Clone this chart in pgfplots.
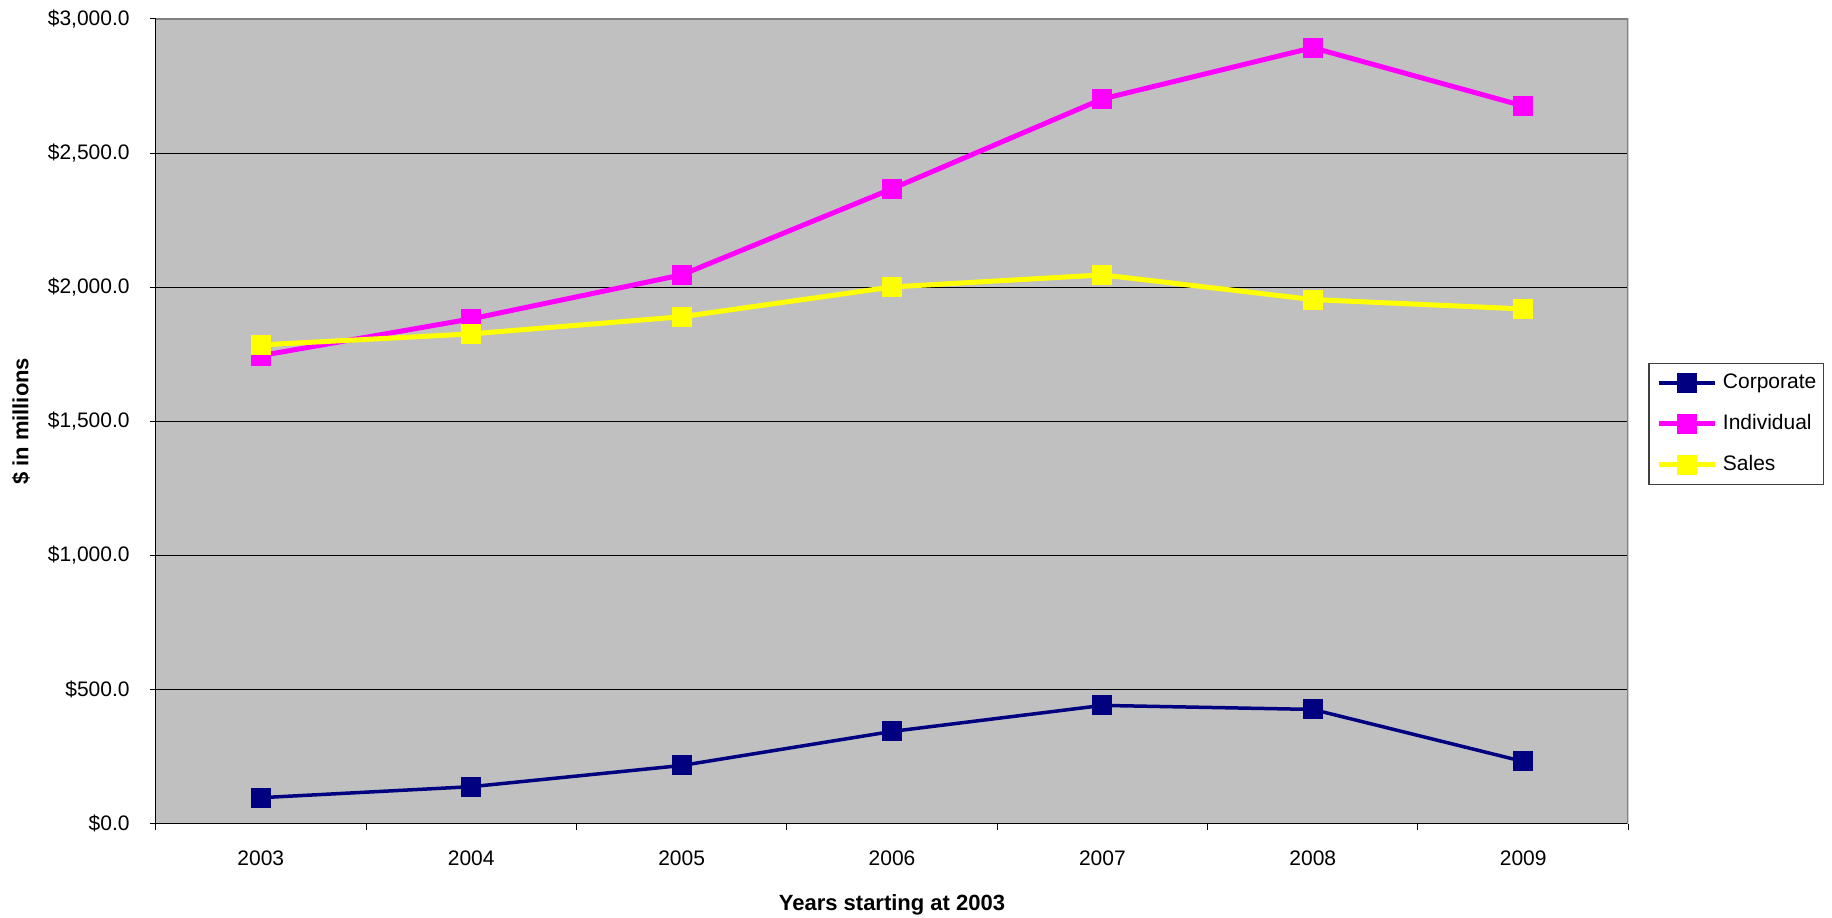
\documentclass[border=0pt]{standalone}
\usepackage{pgfplots}
\pgfplotsset{compat=1.18}
\usepackage{fontspec}
\setmainfont{Liberation Sans}
\definecolor{bgc}{HTML}{C0C0C0}
\definecolor{navyc}{HTML}{000080}
\definecolor{magc}{HTML}{FF00FF}
\definecolor{yelc}{HTML}{FFFF00}
\begin{document}
\begin{tikzpicture}
\useasboundingbox (-77.85pt,-47pt) rectangle (838.5pt,412pt);
\begin{axis}[
  at={(0,0)}, anchor=south west,
  width=736.65pt, height=402.5pt, scale only axis,
  xmin=-0.5, xmax=6.5, ymin=0, ymax=3000,
  axis background/.style={fill=bgc},
  axis lines*=left,
  axis line style={black, line width=0.6pt},
  /pgf/number format/assume math mode=true,
  tick align=outside,
  major tick length=3pt,
  tick style={black, line width=0.5pt},
  xtick={-0.5,0.5,1.5,2.5,3.5,4.5,5.5,6.5},
  xticklabels={},
  extra x ticks={0,1,2,3,4,5,6},
  extra x tick labels={2003,2004,2005,2006,2007,2008,2009},
  extra x tick style={major tick length=0pt},
  xticklabel style={font=\fontsize{10.5}{12}\selectfont, inner sep=0pt, anchor=north, yshift=-13.25pt},
  ytick={0,500,1000,1500,2000,2500,3000},
  yticklabels={{\$0.0},{\$500.0},{\$1,000.0},{\$1,500.0},{\$2,000.0},{\$2,500.0},{\$3,000.0}},
  yticklabel style={font=\fontsize{10.5}{12}\selectfont, inner sep=0pt, anchor=east, xshift=-9.85pt},
  ymajorgrids,
  grid style={black, line width=0.5pt},
  xlabel={Years starting at 2003},
  ylabel={\$ in millions},
  xlabel style={font=\bfseries\fontsize{11}{13}\selectfont, at={(axis description cs:0.5,-0.1003)}, anchor=center},
  ylabel style={font=\bfseries\fontsize{11}{13}\selectfont, at={(axis description cs:-0.0914,0.5)}, anchor=center},
  legend cell align=left,
  legend style={at={(1.0136,0.5727)}, anchor=north west, draw=black!75, line width=0.6pt, fill=white,
    font=\fontsize{10.5}{12}\selectfont, inner xsep=3.5pt, inner ysep=4.5pt,
    row sep=10pt, column sep=2.5pt,
    nodes={inner sep=0pt, text height=8pt, text depth=2.5pt}},
  legend image code/.code={\draw[mark repeat=2,mark phase=2,#1] plot coordinates {(0pt,0pt) (14.25pt,0pt) (28.5pt,0pt)};},
]
\addplot[navyc, line width=1.75pt, mark=square*, mark size=4.75pt, mark options={solid, fill=navyc, draw=navyc, line width=0pt}]
  coordinates {(0,97) (1,138) (2,217) (3,344) (4,441) (5,426) (6,232)};
\addlegendentry{Corporate}
\addplot[magc, line width=2.5pt, mark=square*, mark size=4.75pt, mark options={solid, fill=magc, draw=magc, line width=0pt}]
  coordinates {(0,1745) (1,1882) (2,2046) (3,2367) (4,2702) (5,2893) (6,2676)};
\addlegendentry{Individual}
\addplot[yelc, line width=2.5pt, mark=square*, mark size=4.75pt, mark options={solid, fill=yelc, draw=yelc, line width=0pt}]
  coordinates {(0,1785) (1,1826) (2,1890) (3,2001) (4,2046) (5,1954) (6,1919)};
\addlegendentry{Sales}
\draw[gray, line width=1pt] (rel axis cs:0,1) -- (rel axis cs:1,1) -- (rel axis cs:1,0);
\end{axis}
\end{tikzpicture}
\end{document}
